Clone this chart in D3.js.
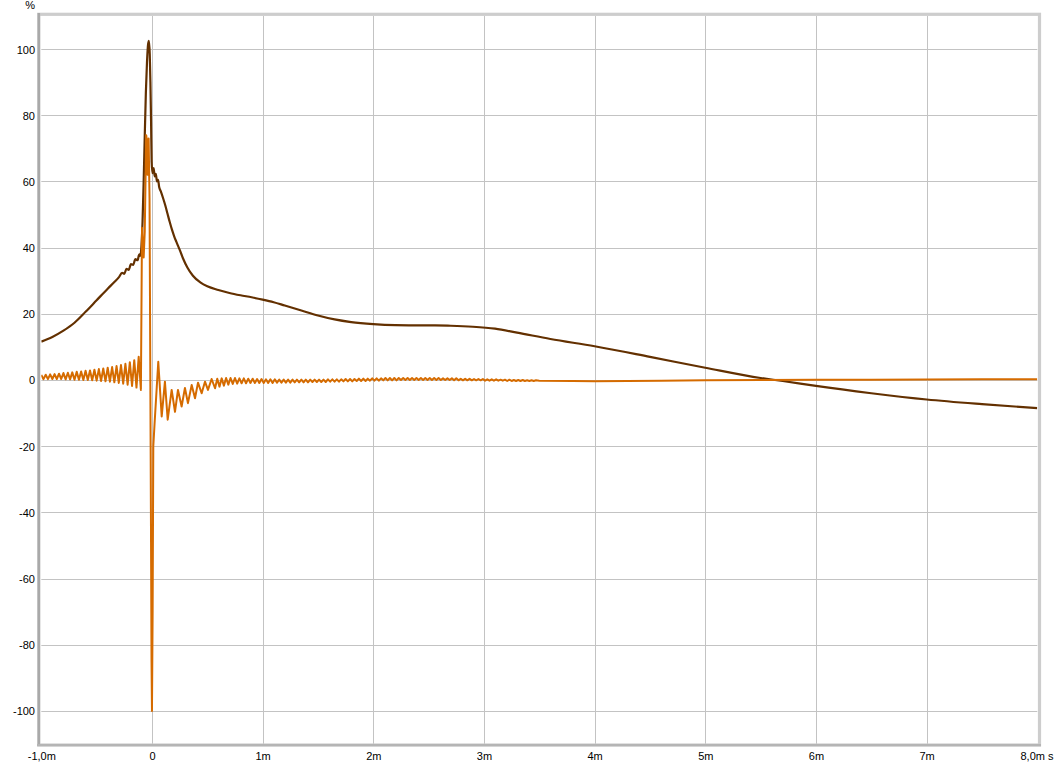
<!DOCTYPE html>
<html>
<head>
<meta charset="utf-8">
<script src="https://cdn.jsdelivr.net/npm/d3@7"></script>
<style>
  html, body { margin: 0; padding: 0; background: #fff; }
  svg { display: block; }
  text { font-family: "Liberation Sans", Arial, sans-serif; font-size: 11px; fill: #000; }
</style>
</head>
<body>
<svg id="chart" width="1058" height="766"></svg>
<script>
// ---- data ----
const xTicks = [-1, 0, 1, 2, 3, 4, 5, 6, 7, 8];
const xTickLabels = ["-1,0m", "0", "1m", "2m", "3m", "4m", "5m", "6m", "7m", "8,0m s"];
const yTicks = [-100, -80, -60, -40, -20, 0, 20, 40, 60, 80, 100];
const yTickLabels = ["-100", "-80", "-60", "-40", "-20", "0", "20", "40", "60", "80", "100"];
const yUnit = "%";

// dark brown trace: [time ms, %]
const brownSeries = [
  [-1.0, 11.6], [-0.9, 13.0], [-0.8, 14.9], [-0.7, 17.3], [-0.6, 20.6], [-0.5, 24.1],
  [-0.4, 27.6], [-0.34, 29.6], [-0.3, 31.0], [-0.27, 32.4], [-0.25, 32.1],
  [-0.23, 33.6], [-0.21, 33.3], [-0.19, 35.0], [-0.17, 34.8], [-0.15, 36.5], [-0.13, 36.2],
  [-0.115, 38.0], [-0.105, 37.5], [-0.095, 40.5], [-0.085, 48], [-0.075, 60], [-0.065, 74],
  [-0.055, 87], [-0.045, 96], [-0.035, 101.5], [-0.027, 102.5], [-0.02, 98.5], [-0.014, 90],
  [-0.008, 78], [-0.003, 66], [0.005, 62.5], [0.015, 64], [0.025, 61.5], [0.035, 62.3],
  [0.045, 60], [0.055, 60.5], [0.065, 58.3], [0.08, 57], [0.10, 55], [0.12, 52.8],
  [0.14, 50.3], [0.16, 47.8], [0.18, 45.5], [0.20, 43.5], [0.22, 41.8], [0.25, 39.4],
  [0.28, 36.8], [0.32, 34.0], [0.37, 31.5], [0.44, 29.4], [0.5, 28.3], [0.6, 27.2],
  [0.7, 26.3], [0.8, 25.6], [0.9, 25.0], [1.0, 24.3], [1.1, 23.5], [1.2, 22.5],
  [1.35, 21.0], [1.5, 19.5], [1.65, 18.3], [1.8, 17.5], [2.0, 16.9], [2.2, 16.6],
  [2.5, 16.5], [2.7, 16.4], [2.9, 16.1], [3.1, 15.5], [3.3, 14.3], [3.6, 12.4],
  [4.0, 10.2], [4.5, 7.0], [5.0, 3.7], [5.5, 0.6], [5.7, -0.3], [6.0, -1.8],
  [6.5, -4.0], [7.0, -5.9], [7.5, -7.3], [8.0, -8.5]
];

// orange trace, part 1: pre-ringing, sampled every 0.02 ms from -1.0 ms
const orangePreStart = -1.0;
const orangePreStep = 0.02;
const orangePre = [
  1.55, 0.25, 1.6, 0.25, 1.7, 0.3, 1.8, 0.3, 1.9, 0.3,
  2.1, 0.2, 2.2, 0.2, 2.3, 0.1, 2.5, 0.1, 2.6, 0.0,
  2.8, 0.0, 2.9, -0.1, 3.1, -0.2, 3.3, -0.3, 3.5, -0.4,
  3.7, -0.5, 3.9, -0.7, 4.2, -0.9, 4.5, -1.1, 4.9, -1.4,
  5.4, -1.8, 6.0, -2.3, 7.0, -3.0
];

// orange trace, part 2: main impulse and post-ringing: [time ms, %]
const orangeImpulse = [
  [-0.09, 46], [-0.075, 37], [-0.065, 45], [-0.052, 74], [-0.045, 72], [-0.04, 62],
  [-0.03, 73], [-0.022, 55], [-0.012, -20], [-0.004, -85], [0.0, -100], [0.006, -70],
  [0.012, -20], [0.023, -13.5], [0.057, 5.5], [0.088, -11], [0.117, -0.5], [0.142, -12],
  [0.178, -3], [0.208, -9.6], [0.235, -3], [0.268, -8], [0.298, -2.4], [0.325, -7],
  [0.359, -1.5], [0.389, -5.5], [0.416, -0.8], [0.449, -4], [0.479, -0.5], [0.506, -3],
  [0.539, 0.3]
];

// orange trace, part 3: late ringing, sampled every 0.02 ms from 0.57 ms
const orangeTailStart = 0.57;
const orangeTailStep = 0.02;
const orangeTail = [
  -2.5, 0.4, -2.0, 0.5, -1.7, 0.6, -1.4, 0.6, -1.2, 0.6,
  -1.1, 0.5, -1.0, 0.5, -1.0, 0.4, -0.9, 0.4, -0.9, 0.3,
  -0.9, 0.3, -0.9, 0.2, -0.9, 0.2, -0.9, 0.2, -0.8, 0.1,
  -0.8, 0.1, -0.8, 0.1, -0.8, 0.1, -0.7, 0.1, -0.7, 0.1,
  -0.7, 0.1, -0.7, 0.1, -0.6, 0.1, -0.6, 0.1, -0.6, 0.1,
  -0.6, 0.2, -0.5, 0.2, -0.5, 0.2, -0.5, 0.2, -0.4, 0.3,
  -0.4, 0.3, -0.4, 0.3, -0.3, 0.4, -0.3, 0.4, -0.3, 0.4,
  -0.2, 0.5, -0.2, 0.5, -0.2, 0.5, -0.1, 0.6, -0.1, 0.6,
  -0.1, 0.6, -0.1, 0.6, 0.0, 0.6, 0.0, 0.6, 0.0, 0.6,
  0.0, 0.6, 0.0, 0.6, 0.0, 0.6, 0.0, 0.6, 0.0, 0.6,
  0.0, 0.6, 0.0, 0.5, 0.0, 0.5, 0.0, 0.5, -0.1, 0.5,
  -0.1, 0.4, -0.1, 0.4, -0.1, 0.4, -0.1, 0.3, -0.1, 0.3,
  -0.1, 0.3, -0.2, 0.2, -0.2, 0.2, -0.2, 0.2, -0.2, 0.1,
  -0.2, 0.1, -0.3, 0.1, -0.3, 0.0, -0.3, 0.0, -0.3, 0.0,
  -0.3, -0.1, -0.3, -0.1, -0.3, -0.1
];

// orange trace, part 4: settled tail: [time ms, %]
const orangeEnd = [
  [3.5, -0.2], [3.8, -0.3], [4.0, -0.35], [4.3, -0.3], [4.6, -0.2], [5.0, -0.1],
  [5.5, 0.0], [6.0, 0.05], [6.5, 0.1], [7.0, 0.15], [7.5, 0.2], [8.0, 0.2]
];

// ---- build ----
const orangeSeries = []
  .concat(orangePre.map((v, i) => [orangePreStart + i * orangePreStep, v]))
  .concat(orangeImpulse)
  .concat(orangeTail.map((v, i) => [orangeTailStart + i * orangeTailStep, v]))
  .concat(orangeEnd);

const svg = d3.select("#chart");
const L = 41.3, R = 1037.3, T = 16, B = 744;

const x = d3.scaleLinear().domain([-1, 8]).range([L, R]);
const y = d3.scaleLinear().domain([-110, 110]).range([B, T]);

// clip
svg.append("defs").append("clipPath").attr("id", "plotclip")
  .append("rect").attr("x", L).attr("y", T).attr("width", R - L).attr("height", B - T);

// grid
const grid = svg.append("g");
grid.selectAll("line.h").data(yTicks).enter().append("line")
  .attr("x1", L).attr("x2", R)
  .attr("y1", d => Math.round(y(d)) + 0.5).attr("y2", d => Math.round(y(d)) + 0.5)
  .attr("stroke", "#c3c3c3").attr("stroke-width", 1);
grid.selectAll("line.v").data(xTicks.slice(1, -1)).enter().append("line")
  .attr("y1", T).attr("y2", B)
  .attr("x1", d => Math.round(x(d)) + 0.5).attr("x2", d => Math.round(x(d)) + 0.5)
  .attr("stroke", "#c3c3c3").attr("stroke-width", 1);

// frame
svg.append("rect").attr("x", 38.8).attr("y", 14.3).attr("width", 1000.7).attr("height", 730.7)
  .attr("fill", "none").attr("stroke", "#cdcdcd").attr("stroke-width", 3.2);
svg.append("line").attr("x1", 38.8).attr("x2", 38.8).attr("y1", 13).attr("y2", 746)
  .attr("stroke", "#a9a9a9").attr("stroke-width", 2.5);
svg.append("line").attr("x1", 37).attr("x2", 1041).attr("y1", 745.2).attr("y2", 745.2)
  .attr("stroke", "#b5b5b5").attr("stroke-width", 2.2);

// series
const brownLine = d3.line().curve(d3.curveMonotoneX).x(d => x(d[0])).y(d => y(d[1]));
const line = d3.line().x(d => x(d[0])).y(d => y(d[1]));
const plot = svg.append("g").attr("clip-path", "url(#plotclip)");
plot.append("path").datum(brownSeries).attr("d", brownLine)
  .attr("fill", "none").attr("stroke", "#633000").attr("stroke-width", 2.2)
  .attr("stroke-linejoin", "round");
plot.append("path").datum(orangeSeries).attr("d", line)
  .attr("fill", "none").attr("stroke", "#d56b00").attr("stroke-width", 2)
  .attr("stroke-linejoin", "round");

// y axis labels
const yAxis = d3.axisLeft(y).tickValues(yTicks).tickSize(0).tickPadding(0)
  .tickFormat((d, i) => yTickLabels[i]);
const gy = svg.append("g").attr("transform", "translate(35,0)").call(yAxis);
gy.select(".domain").remove();
gy.selectAll("text").attr("font-family", "Liberation Sans, Arial, sans-serif")
  .attr("font-size", 11).attr("fill", "#000").attr("dy", "0.36em");

svg.append("text").attr("x", 35).attr("y", 9).attr("text-anchor", "end").text(yUnit);

// x axis labels
const xAxis = d3.axisBottom(x).tickValues(xTicks).tickSize(0).tickPadding(0)
  .tickFormat((d, i) => xTickLabels[i]);
const gx = svg.append("g").attr("transform", "translate(0,752)").call(xAxis);
gx.select(".domain").remove();
gx.selectAll("text").attr("font-family", "Liberation Sans, Arial, sans-serif")
  .attr("font-size", 11).attr("fill", "#000").attr("dy", "0.71em");
gx.selectAll(".tick").filter(d => d === 8).select("text")
  .attr("text-anchor", "end").attr("x", 1053 - x(8));
</script>
</body>
</html>
